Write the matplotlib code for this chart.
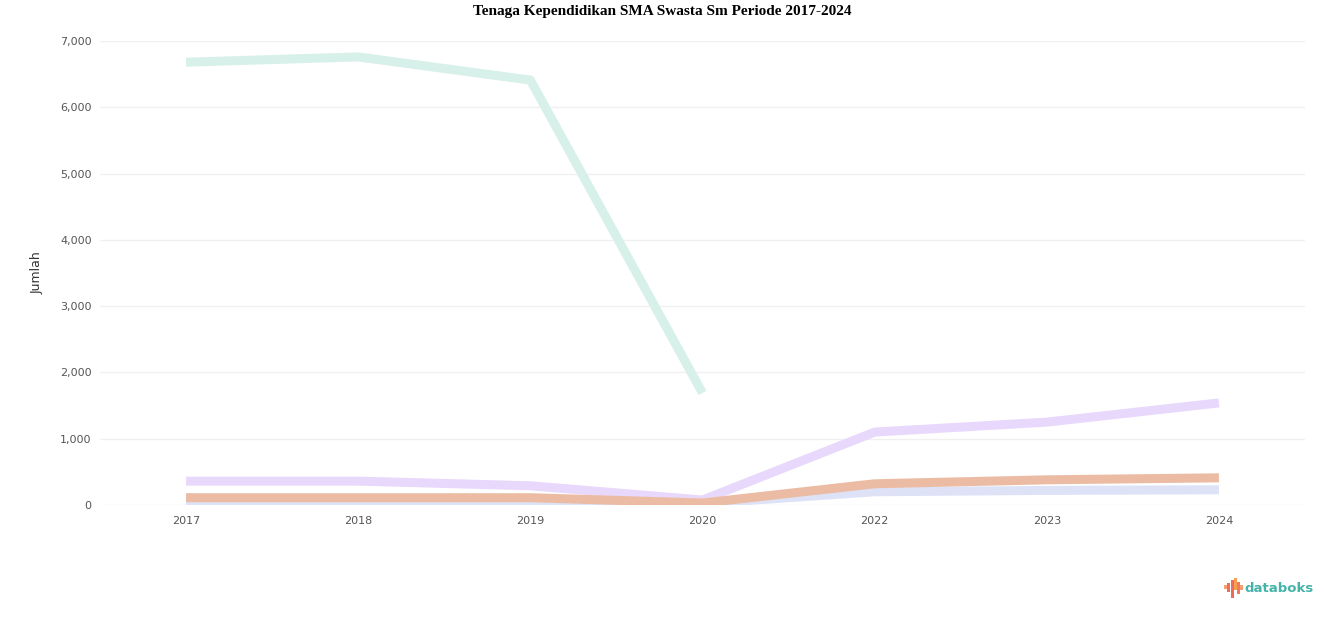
import matplotlib
matplotlib.use('Agg')
import numpy as np
import matplotlib.pyplot as plt
from matplotlib.ticker import FuncFormatter
from matplotlib.patches import Rectangle

years = ['2017', '2018', '2019', '2020', '2022', '2023', '2024']
teal = [6680, 6760, 6410, 1690, np.nan, np.nan, np.nan]
purple = [360, 360, 290, 75, 1100, 1250, 1540]
orange = [110, 110, 110, 30, 320, 380, 410]
blue = [60, 60, 60, 20, 200, 220, 230]

x = np.arange(len(years))

fig = plt.figure(figsize=(13.24, 6.17), dpi=100)
ax = fig.add_axes([100/1324, 1-505/617, 1205/1324, 464/617])

ax.plot(x, blue, color='#dde2f7', lw=6.5, solid_capstyle='butt', zorder=2)
ax.plot(x, orange, color='#ebbca3', lw=6.5, solid_capstyle='butt', zorder=3)
ax.plot(x, purple, color='#e8d8fb', lw=6.5, solid_capstyle='butt', zorder=2)
ax.plot(x, teal, color='#d8f0ea', lw=6.5, solid_capstyle='butt', zorder=2)

ax.set_xlim(-0.5, 6.5)
ax.set_ylim(0, 7000)
ax.set_yticks(np.arange(0, 7001, 1000))
ax.yaxis.set_major_formatter(FuncFormatter(lambda v, p: f'{int(v):,}'))
ax.set_xticks(x)
ax.set_xticklabels(years)
ax.grid(axis='y', color='#f0f0f0', lw=1)
ax.set_axisbelow(True)
for s in ax.spines.values():
    s.set_visible(False)
ax.tick_params(length=0, labelsize=8, colors='#555555', pad=8)
ax.tick_params(axis='y', pad=6)
ax.set_ylabel('Jumlah', fontsize=9, color='#333333', labelpad=12)

fig.text(0.5, 1-11/617, 'Tenaga Kependidikan SMA Swasta Sm Periode 2017-2024',
         ha='center', va='center', fontsize=11, fontweight='bold',
         family='Liberation Serif')

# databoks logo: (x, top, bottom, colour)
bars = [(1224, 585, 589, '#f5a070'), (1227, 583, 592, '#ef6f5e'),
        (1231, 580, 598, '#ee6a5c'), (1234, 578, 590, '#f5a050'),
        (1237, 582, 594, '#ef7a5e'), (1240, 585, 590, '#f5a070')]
for bx, top, bot, c in bars:
    fig.patches.append(Rectangle((bx/1324, 1-bot/617), 2.5/1324, (bot-top)/617,
                                 transform=fig.transFigure, color=c, lw=0))
fig.text(1244/1324, 1-588/617, 'databoks', ha='left', va='center',
         fontsize=9.5, fontweight='bold', color='#45b3aa', family='DejaVu Sans')

fig.savefig('out.png', dpi=100, facecolor='white')
